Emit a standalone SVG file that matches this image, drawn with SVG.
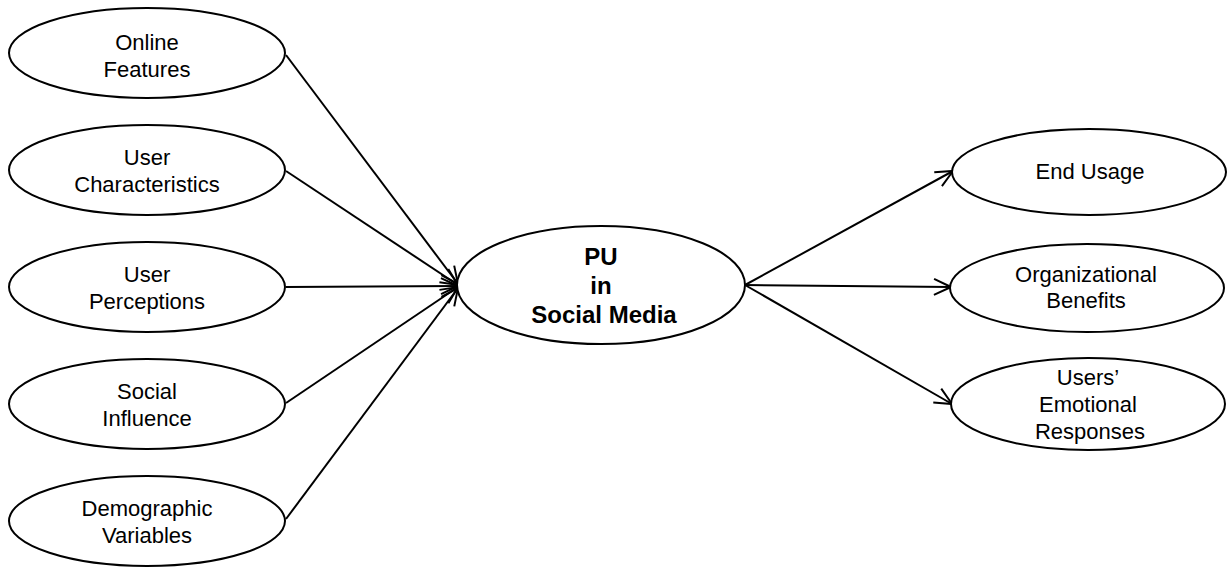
<svg xmlns="http://www.w3.org/2000/svg" width="1231" height="567" viewBox="0 0 1231 567">
<style>
.n{fill:#fff;stroke:#000;stroke-width:2}
.t{font-family:"Liberation Sans",Arial,sans-serif;font-size:22px;fill:#000;text-anchor:middle}
.b{font-family:"Liberation Sans",Arial,sans-serif;font-size:24px;font-weight:bold;fill:#000;text-anchor:middle}
.c{stroke:#000;stroke-width:2;fill:none;marker-end:url(#a)}
</style>
<defs>
<marker id="a" viewBox="0 0 20 20" refX="19" refY="10" markerWidth="20" markerHeight="20" markerUnits="userSpaceOnUse" orient="auto">
<path d="M2,2 L19,10 L2,18" fill="none" stroke="#000" stroke-width="2"/>
</marker>
</defs>
<rect width="1231" height="567" fill="#fff"/>
<g id="connectors">
<line class="c" x1="286" y1="55" x2="458" y2="284"/>
<line class="c" x1="286" y1="171" x2="458" y2="285"/>
<line class="c" x1="286" y1="287" x2="458" y2="286"/>
<line class="c" x1="286" y1="403" x2="458" y2="287"/>
<line class="c" x1="286" y1="519" x2="458" y2="288"/>
<line class="c" x1="745" y1="285" x2="953" y2="171"/>
<line class="c" x1="745" y1="285" x2="951" y2="287"/>
<line class="c" x1="745" y1="285" x2="952" y2="404"/>
</g>
<g id="online-features"><ellipse class="n" cx="147" cy="53" rx="138" ry="45"/><text class="t" x="147" y="50">Online</text><text class="t" x="147" y="77">Features</text></g>
<g id="user-characteristics"><ellipse class="n" cx="147" cy="170" rx="138" ry="45"/><text class="t" x="147" y="165">User</text><text class="t" x="147" y="192">Characteristics</text></g>
<g id="user-perceptions"><ellipse class="n" cx="147" cy="287" rx="138" ry="45"/><text class="t" x="147" y="282">User</text><text class="t" x="147" y="309">Perceptions</text></g>
<g id="social-influence"><ellipse class="n" cx="147" cy="404" rx="138" ry="45"/><text class="t" x="147" y="399">Social</text><text class="t" x="147" y="426">Influence</text></g>
<g id="demographic-variables"><ellipse class="n" cx="147" cy="521" rx="138" ry="45"/><text class="t" x="147" y="516">Demographic</text><text class="t" x="147" y="543">Variables</text></g>
<g id="pu-social-media"><ellipse class="n" cx="601" cy="285" rx="144" ry="59"/><text class="b" x="601" y="265">PU</text><text class="b" x="601" y="294">in</text><text class="b" x="604" y="323">Social Media</text></g>
<g id="end-usage"><ellipse class="n" cx="1089" cy="172" rx="137" ry="43"/><text class="t" x="1090" y="179">End Usage</text></g>
<g id="organizational-benefits"><ellipse class="n" cx="1087" cy="288" rx="137" ry="44"/><text class="t" x="1086" y="282">Organizational</text><text class="t" x="1086" y="308">Benefits</text></g>
<g id="users-emotional-responses"><ellipse class="n" cx="1088" cy="404" rx="137" ry="46"/><text class="t" x="1088" y="385">Users’</text><text class="t" x="1088" y="412">Emotional</text><text class="t" x="1090" y="439">Responses</text></g>
</svg>
